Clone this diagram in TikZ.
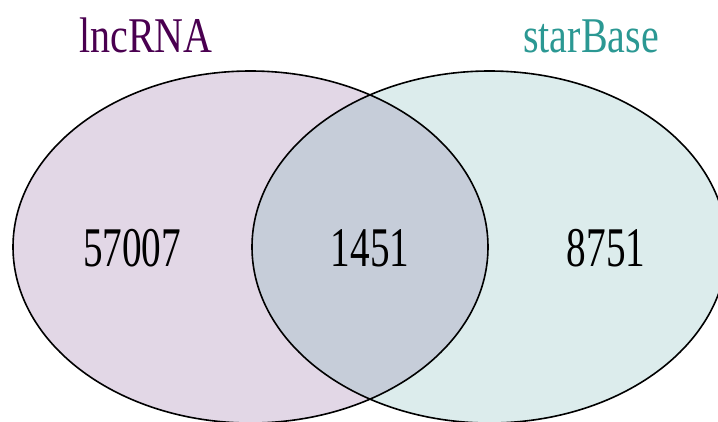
\documentclass[tikz,border=0pt]{standalone}
\usepackage{fontspec}
\setmainfont{Liberation Serif}
\definecolor{lfill}{HTML}{E2D7E6}
\definecolor{rfill}{HTML}{DCECEC}
\definecolor{mfill}{HTML}{C6CDD9}
\definecolor{lcol}{HTML}{4A0050}
\definecolor{rcol}{HTML}{2B9893}
\begin{document}
\begin{tikzpicture}[x=1pt,y=-1pt,
  num/.style={anchor=base,xscale=0.7,font=\fontsize{56}{60}\selectfont,inner sep=0pt},
  setlabel/.style={anchor=base,xscale=0.8,font=\fontsize{50}{54}\selectfont,inner sep=0pt},
  outline/.style={draw=black,line width=1.6pt}]
\useasboundingbox (0,0) rectangle (718,421);
\clip (0,0) rectangle (718,421);
\fill[lfill] (250.5,247) ellipse [x radius=237.5, y radius=176];
\fill[rfill] (489.5,247) ellipse [x radius=237.5, y radius=176];
\begin{scope}
  \clip (250.5,247) ellipse [x radius=237.5, y radius=176];
  \fill[mfill] (489.5,247) ellipse [x radius=237.5, y radius=176];
\end{scope}
\draw[outline] (250.5,247) ellipse [x radius=237.5, y radius=176];
\draw[outline] (489.5,247) ellipse [x radius=237.5, y radius=176];
\node[setlabel,text=lcol] (lab1) at (146,52) {lncRNA};
\node[setlabel,text=rcol] (lab2) at (591,52) {starBase};
\node[num] (n1) at (132,266) {57007};
\node[num] (n2) at (370,266) {1451};
\node[num] (n3) at (606,266) {8751};
\end{tikzpicture}
\end{document}
